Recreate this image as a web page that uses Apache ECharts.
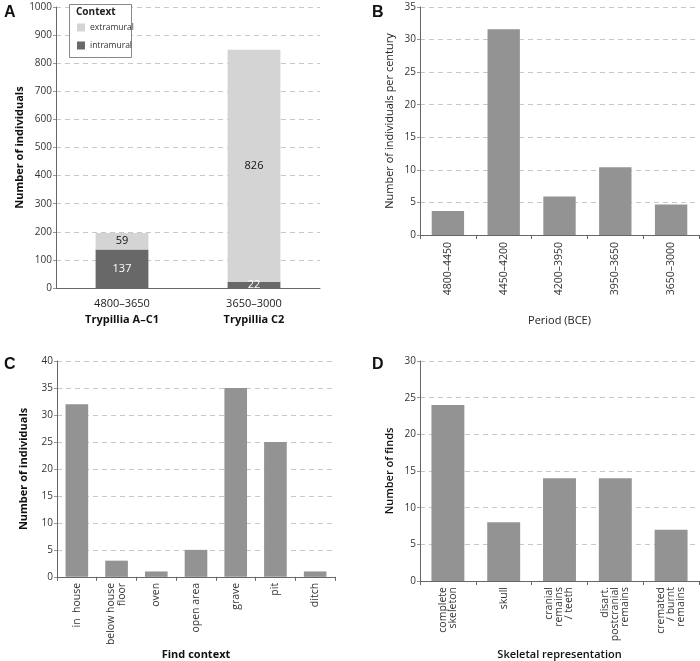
<!DOCTYPE html>
<html><head><meta charset="utf-8">
<script src="https://cdn.jsdelivr.net/npm/echarts@6/dist/echarts.min.js"></script>
<style>html,body{margin:0;padding:0;background:#fff}#c{width:700px;height:661px}</style>
</head><body><div id="c"></div>
<script>
// Panel A
const aPeriods = ['4800–3650', '3650–3000'];
const aPhases = ['Trypillia A–C1', 'Trypillia C2'];
const aIntramural = [137, 22];
const aExtramural = [59, 826];
const aTicks = [0, 1000, 100];
// Panel B
const bPeriods = ['4800–4450', '4450–4200', '4200–3950', '3950–3650', '3650–3000'];
const bValues = [3.7, 31.6, 5.9, 10.4, 4.7];
// Panel C
const cContexts = ['in  house', 'below house\nfloor', 'oven', 'open area', 'grave', 'pit', 'ditch'];
const cValues = [32, 3, 1, 5, 35, 25, 1];
// Panel D
const dReps = ['complete\nskeleton', 'skull', 'cranial\nremains\n/ teeth', 'disart.\npostcranial\nremains', 'cremated\n/ burnt\nremains'];
const dValues = [24, 8, 14, 14, 7];

const FONT = '"Open Sans", "Noto Sans", sans-serif';
const axisLine = {lineStyle: {color: '#666', width: 1}};
const split = {show: true, lineStyle: {color: '#c8c8c8', type: [5, 4], width: 1}};
const yLab = {color: '#333', fontSize: 10, fontFamily: FONT, margin: 4, formatter: v => String(v)};
const yTick = {show: true, length: 3, lineStyle: {color: '#999'}};
const xTick = {show: true, length: 4, lineStyle: {color: '#666'}};
const BAR = '#939393';

const chart = echarts.init(document.getElementById('c'), null, {renderer: 'canvas'});
chart.setOption({
  animation: false,
  textStyle: {fontFamily: FONT},
  grid: [
    {left: 56, top: 7, right: 380, bottom: 373},
    {left: 420, top: 7, right: 1, bottom: 426},
    {left: 57, top: 361, right: 365, bottom: 74},
    {left: 420, top: 361, right: 1, bottom: 74}
  ],
  legend: {
    data: ['extramural', 'intramural'], orient: 'vertical', left: 72, top: 18, z: 10,
    itemWidth: 8, itemHeight: 8, itemGap: 9, icon: 'rect',
    textStyle: {fontSize: 8.5, color: '#333', fontFamily: FONT}
  },
  graphic: [
    {type: 'rect', shape: {x: 69.5, y: 4.5, width: 62, height: 53}, style: {fill: '#fff', stroke: '#888', lineWidth: 1}, z: 2},
    {type: 'text', left: 76, top: 7, style: {text: 'Context', font: 'bold 10px ' + FONT, fill: '#222'}, z: 11},
    {type: 'text', left: 4, top: 5, style: {text: 'A', font: 'bold 16px "Liberation Sans", Arial, sans-serif', fill: '#111'}},
    {type: 'text', left: 372, top: 5, style: {text: 'B', font: 'bold 16px "Liberation Sans", Arial, sans-serif', fill: '#111'}},
    {type: 'text', left: 4, top: 357, style: {text: 'C', font: 'bold 16px "Liberation Sans", Arial, sans-serif', fill: '#111'}},
    {type: 'text', left: 372, top: 357, style: {text: 'D', font: 'bold 16px "Liberation Sans", Arial, sans-serif', fill: '#111'}}
  ],
  xAxis: [
    {gridIndex: 0, type: 'category', data: aPeriods.map((p, i) => p + '\n{b|' + aPhases[i] + '}'),
     axisLine, axisTick: {show: false},
     axisLabel: {color: '#222', fontSize: 11, lineHeight: 16, margin: 8, fontFamily: FONT,
       rich: {b: {fontWeight: 'bold', fontSize: 11, color: '#111', lineHeight: 16, fontFamily: FONT}}}},
    {gridIndex: 1, type: 'category', data: bPeriods, axisLine, axisTick: xTick,
     name: 'Period (BCE)', nameLocation: 'middle', nameGap: 80,
     nameTextStyle: {fontSize: 11, color: '#222', fontFamily: FONT},
     axisLabel: {rotate: 90, color: '#333', fontSize: 10.5, margin: 7, fontFamily: FONT}},
    {gridIndex: 2, type: 'category', data: cContexts, axisLine, axisTick: xTick,
     name: 'Find context', nameLocation: 'middle', nameGap: 68,
     nameTextStyle: {fontSize: 11, fontWeight: 'bold', color: '#111', fontFamily: FONT},
     axisLabel: {rotate: 90, color: '#333', fontSize: 10.5, margin: 6, lineHeight: 11, fontFamily: FONT}},
    {gridIndex: 3, type: 'category', data: dReps, axisLine, axisTick: xTick,
     name: 'Skeletal representation', nameLocation: 'middle', nameGap: 68,
     nameTextStyle: {fontSize: 11, fontWeight: 600, color: '#111', fontFamily: FONT},
     axisLabel: {rotate: 90, color: '#333', fontSize: 10.5, margin: 6, lineHeight: 10, fontFamily: FONT}}
  ],
  yAxis: [
    {gridIndex: 0, type: 'value', min: aTicks[0], max: aTicks[1], interval: aTicks[2],
     axisLine: {show: true, lineStyle: {color: '#666'}}, axisTick: yTick, splitLine: split, axisLabel: yLab,
     name: 'Number of individuals', nameLocation: 'middle', nameGap: 25,
     nameTextStyle: {fontSize: 11, fontWeight: 'bold', color: '#111', fontFamily: FONT}},
    {gridIndex: 1, type: 'value', min: 0, max: 35, interval: 5,
     axisLine: {show: true, lineStyle: {color: '#666'}}, axisTick: yTick, splitLine: split, axisLabel: yLab,
     name: 'Number of individuals per century', nameLocation: 'middle', nameGap: 25,
     nameTextStyle: {fontSize: 11, color: '#222', fontFamily: FONT}},
    {gridIndex: 2, type: 'value', min: 0, max: 40, interval: 5,
     axisLine: {show: true, lineStyle: {color: '#666'}}, axisTick: yTick, splitLine: split, axisLabel: yLab,
     name: 'Number of individuals', nameLocation: 'middle', nameGap: 28,
     nameTextStyle: {fontSize: 11, fontWeight: 'bold', color: '#111', fontFamily: FONT}},
    {gridIndex: 3, type: 'value', min: 0, max: 30, interval: 5,
     axisLine: {show: true, lineStyle: {color: '#666'}}, axisTick: yTick, splitLine: split, axisLabel: yLab,
     name: 'Number of finds', nameLocation: 'middle', nameGap: 25,
     nameTextStyle: {fontSize: 11, fontWeight: 600, color: '#111', fontFamily: FONT}}
  ],
  series: [
    {name: 'intramural', type: 'bar', stack: 'a', xAxisIndex: 0, yAxisIndex: 0, data: aIntramural,
     barWidth: '40%', itemStyle: {color: '#686868'},
     label: {show: true, position: 'inside', color: '#fff', fontSize: 11, fontFamily: FONT}},
    {name: 'extramural', type: 'bar', stack: 'a', xAxisIndex: 0, yAxisIndex: 0, data: aExtramural,
     barWidth: '40%', itemStyle: {color: '#d4d4d4'},
     label: {show: true, position: 'inside', color: '#111', fontSize: 11, fontFamily: FONT}},
    {type: 'bar', xAxisIndex: 1, yAxisIndex: 1, data: bValues, barWidth: '58%', itemStyle: {color: BAR}},
    {type: 'bar', xAxisIndex: 2, yAxisIndex: 2, data: cValues, barWidth: '57%', itemStyle: {color: BAR}},
    {type: 'bar', xAxisIndex: 3, yAxisIndex: 3, data: dValues, barWidth: '59%', itemStyle: {color: BAR}}
  ]
});
</script></body></html>
